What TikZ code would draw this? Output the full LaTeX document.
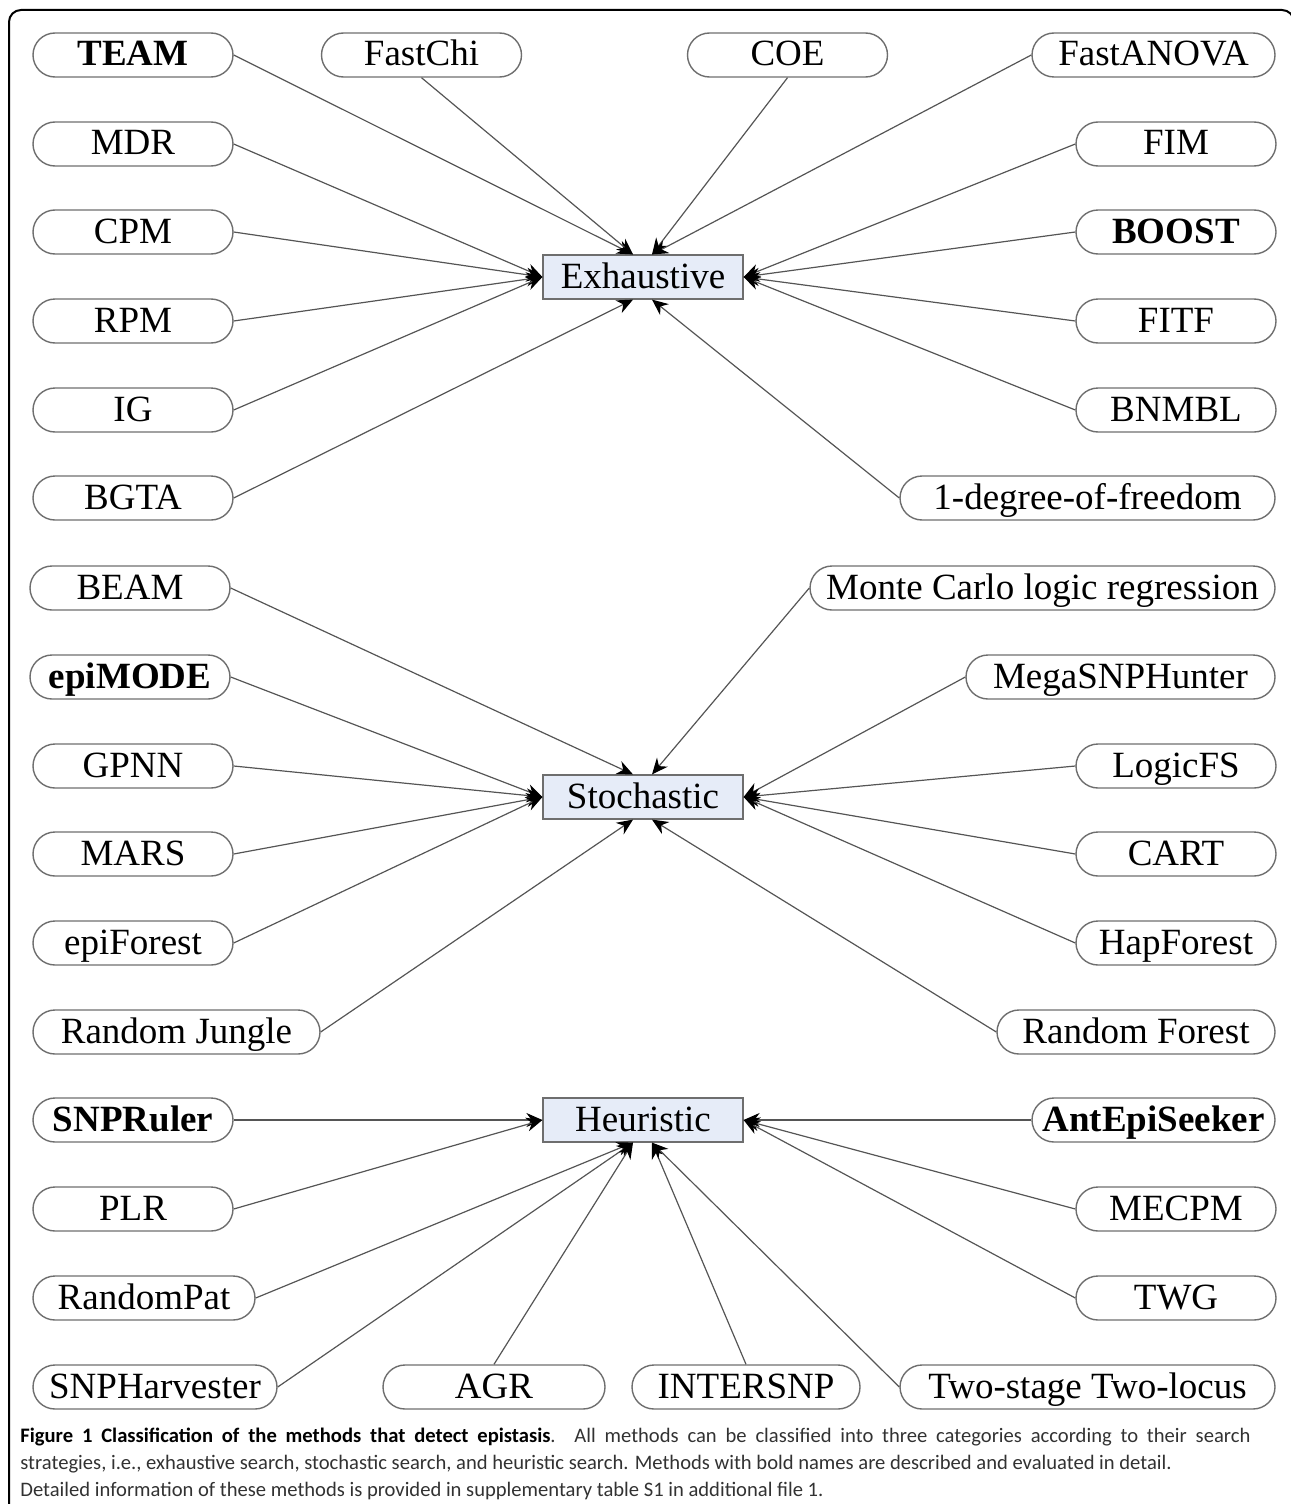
\documentclass[tikz,border=0pt]{standalone}
\usepackage{fontspec}
\setmainfont{Liberation Serif}
\newfontfamily\capfont{Carlito}
\usetikzlibrary{arrows.meta}
\usetikzlibrary{calc}

\definecolor{boxfill}{RGB}{230,236,248}
\definecolor{boxline}{RGB}{110,110,110}
\definecolor{edgeline}{RGB}{85,85,85}
\definecolor{captext}{RGB}{50,50,50}

\tikzset{
  method/.style={draw=boxline, line width=0.7pt, rounded corners=11pt, minimum width=100pt, minimum height=22pt,
    inner sep=0pt, text height=12.5pt, text depth=1.5pt, font=\fontsize{18.5}{22}\selectfont},
  category/.style={draw=boxline, fill=boxfill, line width=0.6pt, minimum width=100pt, minimum height=22pt,
    inner sep=0pt, text height=12.5pt, text depth=1.5pt, font=\fontsize{18.5}{22}\selectfont},
  link/.style={draw=edgeline, line width=0.6pt, -{Stealth[length=8pt,width=7pt,black]}},
  caption/.style={text width=615pt, align=justify, inner sep=0pt, text=captext,
    font=\capfont\fontsize{10.3}{13.5}\selectfont},
}

\begin{document}
\begin{tikzpicture}[x=0.5pt,y=0.5pt,yscale=-1,xscale=1]
\useasboundingbox (0,0) rectangle (1290,1504);

% Frame
\draw [line width=1pt, rounded corners=6pt] (9,1520) -- (9,10) -- (1294,10) -- (1294,1520);

% Exhaustive group
\node [category] (ex) at (643,277) {Exhaustive};
\node [method] (team) at (133,55) {\textbf{TEAM}};
\node [method] (fastchi) at (421.5,55) {FastChi};
\node [method] (coe) at (787.5,55) {COE};
\node [method, minimum width=121.5pt] (fastanova) at (1153.5,55) {FastANOVA};
\node [method] (mdr) at (133,144) {MDR};
\node [method] (fim) at (1176,144) {FIM};
\node [method] (cpm) at (133,232) {CPM};
\node [method] (boost) at (1176,232) {\textbf{BOOST}};
\node [method] (rpm) at (133,321) {RPM};
\node [method] (fitf) at (1176,321) {FITF};
\node [method] (ig) at (133,410) {IG};
\node [method] (bnmbl) at (1176,410) {BNMBL};
\node [method] (bgta) at (133,498) {BGTA};
\node [method, minimum width=187.5pt] (onedof) at (1087.5,498) {1-degree-of-freedom};

% Connection
\draw [link] (team.east) -- ([xshift=-5pt]ex.north);
\draw [link] (fastchi.south) -- ([xshift=-5pt]ex.north);
\draw [link] (coe.south) -- ([xshift=4.5pt]ex.north);
\draw [link] (fastanova.west) -- ([xshift=4.5pt]ex.north);
\foreach \src in {mdr,cpm,rpm,ig}
  \draw [link] (\src.east) -- (ex.west);
\foreach \src in {fim,boost,fitf,bnmbl}
  \draw [link] (\src.west) -- (ex.east);
\draw [link] (bgta.east) -- ([xshift=-5pt]ex.south);
\draw [link] (onedof.west) -- ([xshift=4.5pt]ex.south);

% Stochastic group
\node [category] (st) at (643,797) {Stochastic};
\node [method] (beam) at (130,588) {BEAM};
\node [method, minimum width=232.5pt] (montecarlo) at (1042.5,588) {Monte Carlo logic regression};
\node [method] (epimode) at (130,677) {\textbf{epiMODE}};
\node [method, minimum width=154.5pt] (megasnp) at (1120.5,677) {MegaSNPHunter};
\node [method] (gpnn) at (133,766) {GPNN};
\node [method] (logicfs) at (1176,766) {LogicFS};
\node [method] (mars) at (133,854) {MARS};
\node [method] (cart) at (1176,854) {CART};
\node [method] (epiforest) at (133,943) {epiForest};
\node [method] (hapforest) at (1176,943) {HapForest};
\node [method, minimum width=143.5pt] (rjungle) at (176.5,1032) {Random Jungle};
\node [method, minimum width=139pt] (rforest) at (1136,1032) {Random Forest};

% Connection
\draw [link] (beam.east) -- ([xshift=-5pt]st.north);
\draw [link] (montecarlo.west) -- ([xshift=4.5pt]st.north);
\foreach \src in {epimode,gpnn,mars,epiforest}
  \draw [link] (\src.east) -- (st.west);
\foreach \src in {megasnp,logicfs,cart,hapforest}
  \draw [link] (\src.west) -- (st.east);
\draw [link] (rjungle.east) -- ([xshift=-5pt]st.south);
\draw [link] (rforest.west) -- ([xshift=4.5pt]st.south);

% Heuristic group
\node [category] (he) at (643,1120) {Heuristic};
\node [method] (snpruler) at (133,1120) {\textbf{SNPRuler}};
\node [method, minimum width=121.5pt] (antepi) at (1153.5,1120) {\textbf{AntEpiSeeker}};
\node [method] (plr) at (133,1209) {PLR};
\node [method] (mecpm) at (1176,1209) {MECPM};
\node [method, minimum width=111pt] (randompat) at (144,1298) {RandomPat};
\node [method] (twg) at (1176,1298) {TWG};
\node [method, minimum width=122pt] (snpharv) at (155,1387) {SNPHarvester};
\node [method, minimum width=111pt] (agr) at (494,1387) {AGR};
\node [method, minimum width=114pt] (intersnp) at (746,1387) {INTERSNP};
\node [method, minimum width=187.5pt] (twostage) at (1087.5,1387) {Two-stage Two-locus};

% Connection
\draw [link] (snpruler.east) -- (he.west);
\draw [link] (plr.east) -- (he.west);
\draw [link] (randompat.east) -- ([xshift=-5pt]he.south);
\draw [link] (snpharv.east) -- ([xshift=-5pt]he.south);
\draw [link] (agr.north) -- ([xshift=-5pt]he.south);
\draw [link] (intersnp.north) -- ([xshift=4.5pt]he.south);
\draw [link] (twostage.west) -- ([xshift=4.5pt]he.south);
\foreach \src in {antepi,mecpm,twg}
  \draw [link] (\src.west) -- (he.east);

% Caption
\node [caption, anchor=north west] (cap) at (20,1428) {\textcolor{black}{\textbf{Figure 1 Classification of the methods that detect epistasis}}. All methods can be classified into three categories according to their search\linebreak strategies, i.e., exhaustive search, stochastic search, and heuristic search. Methods with bold names are described and evaluated in detail.\newline Detailed information of these methods is provided in supplementary table S1 in additional file 1.};

\end{tikzpicture}
\end{document}
